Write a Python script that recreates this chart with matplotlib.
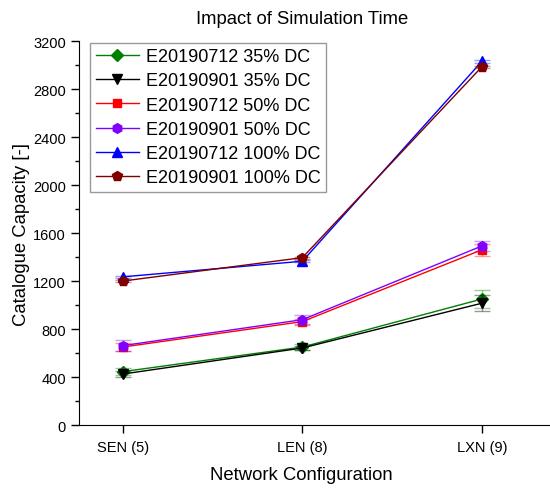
import matplotlib
matplotlib.use("Agg")
import matplotlib.pyplot as plt
from matplotlib.colors import to_rgba
import numpy as np

plt.rcParams['font.family'] = ['Liberation Sans', 'DejaVu Sans']

# data
configs = ["SEN (5)", "LEN (8)", "LXN (9)"]
labels = ["E20190712 35% DC", "E20190901 35% DC", "E20190712 50% DC",
          "E20190901 50% DC", "E20190712 100% DC", "E20190901 100% DC"]
cap_0712_35 = [445, 650, 1050]
cap_0901_35 = [425, 642, 1015]
cap_0712_50 = [650, 862, 1460]
cap_0901_50 = [662, 878, 1492]
cap_0712_100 = [1235, 1365, 3030]
cap_0901_100 = [1200, 1395, 2985]
err_0712_35 = [30, 22, 75]
err_0901_35 = [25, 20, 65]
err_0712_50 = [35, 25, 50]
err_0901_50 = [45, 38, 42]
err_0712_100 = [8, 8, 10]
err_0901_100 = [8, 8, 10]

series = [cap_0712_35, cap_0901_35, cap_0712_50, cap_0901_50, cap_0712_100, cap_0901_100]
errors = [err_0712_35, err_0901_35, err_0712_50, err_0901_50, err_0712_100, err_0901_100]
colors = ["#008000", "#000000", "#ff0000", "#8000ff", "#0000ff", "#800000"]
markers = ["D", "v", "s", "h", "^", "p"]
msizes = [6, 7, 6, 7, 7, 7]

fig = plt.figure(figsize=(5.5, 4.89), dpi=100)
ax = fig.add_axes([0.1436, 0.1288, 0.8564, 0.7852])

x = np.arange(len(configs))
for vals, err, col, mk, ms, lab in zip(series, errors, colors, markers, msizes, labels):
    # light error bars first, then the line with markers on top
    ax.errorbar(x, vals, yerr=err, fmt='none', ecolor=to_rgba(col, 0.4),
                elinewidth=1, capsize=6, capthick=1)
    ax.plot(x, vals, color=col, marker=mk, markersize=ms, lw=1, label=lab)

ax.set_xlim(-0.245, 2.38)
ax.set_ylim(0, 3200)
ax.set_xticks(x)
ax.set_xticklabels(configs, fontsize=10.5)
ax.set_yticks(np.arange(0, 3201, 400))
ax.set_yticks(np.arange(200, 3200, 400), minor=True)
ax.tick_params(axis='y', labelsize=10.5, direction='out', length=6, width=1)
ax.tick_params(axis='y', which='minor', direction='out', length=3, width=1)
ax.tick_params(axis='x', direction='out', length=6, width=1, pad=5)
ax.spines['top'].set_visible(False)
ax.spines['right'].set_visible(False)

ax.set_title("Impact of Simulation Time", fontsize=13.3, x=0.473, y=1.0, pad=13)
ax.set_xlabel("Network Configuration", fontsize=13.3, va='top')
ax.xaxis.set_label_coords(0.473, -0.106)
ax.set_ylabel("Catalogue Capacity [-]", fontsize=13.3)
ax.yaxis.set_label_coords(-0.104, 0.5)

leg = ax.legend(loc='upper left', bbox_to_anchor=(0.02, 1.0), fontsize=13,
                frameon=True, fancybox=False, edgecolor='#808080',
                handlelength=2.4, labelspacing=0.4, borderpad=0.3,
                handletextpad=0.4, borderaxespad=0.1)
leg.get_frame().set_linewidth(1)

fig.savefig("out.png", dpi=100)
